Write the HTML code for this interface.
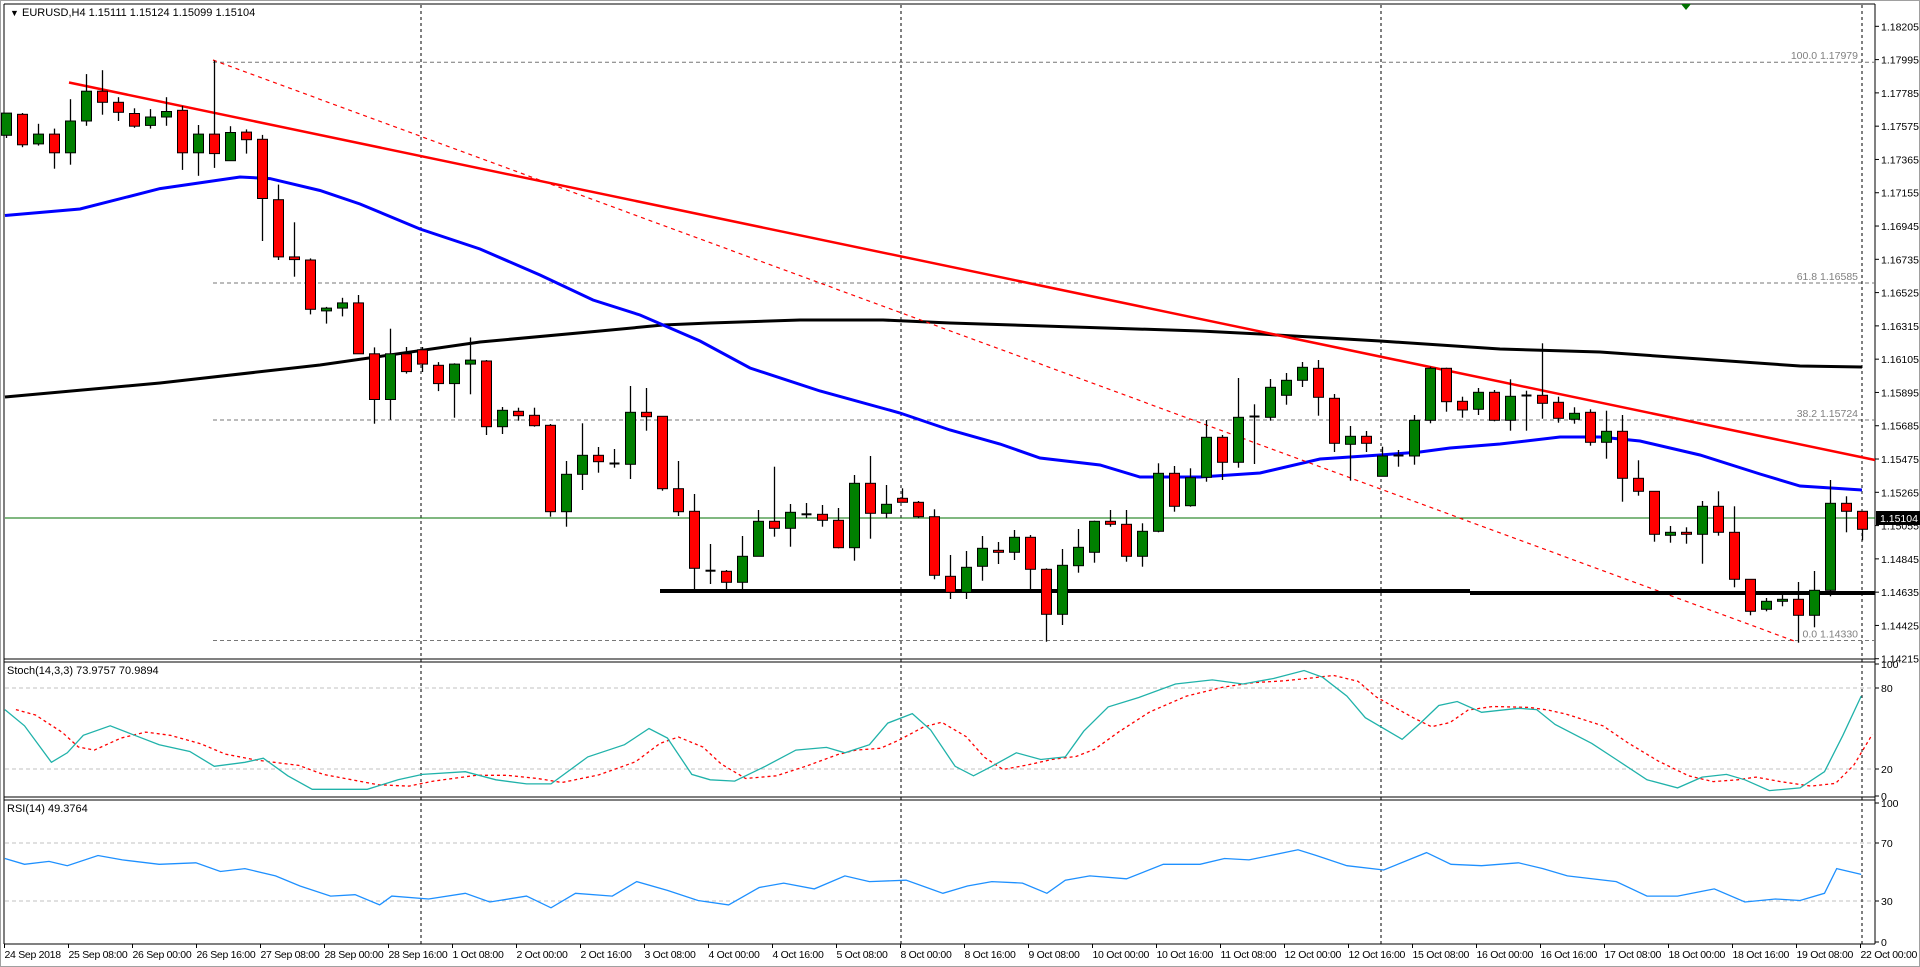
<!DOCTYPE html>
<html><head><meta charset="utf-8"><style>
html,body{margin:0;padding:0;background:#fff;}
svg{display:block;font-family:"Liberation Sans",sans-serif;}
</style></head><body>
<svg id="c" width="1920" height="967" viewBox="0 0 1920 967" xmlns="http://www.w3.org/2000/svg">
<rect x="0" y="0" width="1920" height="967" fill="#fff"/>
<rect x="0.5" y="0.5" width="1919" height="966" fill="none" stroke="#a0a0a0"/>
</svg>
<script>
var svg=document.getElementById('c');var out='';
function L(x1,y1,x2,y2,c,w,d){out+='<line x1="'+x1+'" y1="'+y1+'" x2="'+x2+'" y2="'+y2+'" stroke="'+c+'" stroke-width="'+(w||1)+'"'+(d?' stroke-dasharray="'+d+'"':'')+'/>';}
function T(x,y,s,sz,c,anc,extra){out+='<text x="'+x+'" y="'+y+'" font-size="'+(sz||11)+'" fill="'+(c||'#000')+'"'+(anc?' text-anchor="'+anc+'"':'')+(extra||'')+'>'+s+'</text>';}
function P(pts,c,w,d){out+='<polyline fill="none" points="'+pts.map(function(p){return p[0].toFixed(1)+','+p[1].toFixed(1)}).join(' ')+'" stroke="'+c+'" stroke-width="'+w+'"'+(d?' stroke-dasharray="'+d+'"':'')+'/>';}
var R=1875;
L(4,4,R,4,'#000');L(4,4,4,944,'#000');L(R,4,R,944,'#000');
L(4,659,R,659,'#000');L(4,662,R,662,'#000');L(4,797,R,797,'#000');L(4,800,R,800,'#000');L(4,944,R,944,'#000');
var fib=[[62.2,'100.0 1.17979'],[283,'61.8 1.16585'],[420,'38.2 1.15724'],[640.5,'0.0 1.14330']];
fib.forEach(function(f){L(213,f[0],R,f[0],'#777',1,'4,3');T(1858,f[0]-3,f[1],10.5,'#808080','end');});
[688,769].forEach(function(y){L(5,y,R,y,'#c0c0c0',1,'4,3');});
[843,901].forEach(function(y){L(5,y,R,y,'#c0c0c0',1,'4,3');});
[421,901,1381,1862].forEach(function(x){L(x,5,x,944,'#000',1,'3,3');});
L(5,518,R,518,'#007000',1);
P([[5,397],[160,383],[320,365],[480,342],[600,331],[663,325],[710,323],[800,320],[883,320],[950,323],[1200,331],[1260,334],[1380,341],[1500,349],[1600,352],[1700,359],[1800,366],[1862,367]],'#000',3);
P([[5,215.5],[80,209],[160,188.6],[240,177],[270,178.6],[320,190.5],[360,204],[420,229],[480,249],[540,275],[593,300],[640,315],[700,341],[750,368],[820,391],[900,413],[950,430],[1000,444],[1040,458],[1100,465],[1140,477],[1200,477],[1260,473],[1320,459],[1380,455],[1420,452],[1450,448],[1500,444],[1560,437],[1600,437],[1640,441],[1700,455],[1760,474],[1800,486],[1862,490]],'#0000ff',3);
L(69,82.5,R,460,'#ff0000',2.5);
L(213,60,1797,642,'#ff0000',1.2,'4,4');
L(660,591,1470,591,'#000',4);L(1470,593,R,593,'#000',4);
var d=[[135.3,113.1,113,138],[114.3,144.8,113,147.2],[143.9,134.1,123.8,145.6],[134.1,152.8,128.6,168.7],[152.8,121,99.2,164.7],[121,91.2,74.1,125.8],[91.2,102.3,70.2,114.7],[102.3,112.3,97.2,121],[113.5,126.2,108.3,127.8],[125.4,117,109.1,128.6],[117,111.5,97.2,125.8],[110.3,152.8,105.9,169.9],[152.8,134.1,125,175.8],[134.1,153.6,60.6,167.9],[160.7,132.5,126.2,160.7],[132.1,139.7,129.4,153.6],[139.3,198.5,134.9,241],[199.7,256.9,184.6,260],[256.9,259.6,222.3,276.7],[260,309.3,258.4,314.4],[310.9,308.1,306.9,323.6],[308.1,302.9,297.8,316.4],[302.9,353.8,295,353.8],[353.8,399.5,347.4,423.7],[399.5,353.8,328.7,419.7],[353.8,371.6,347,373.6],[349.8,364.1,347,372],[365.3,383.6,362.1,391.1],[383.6,364.1,363.3,417.7],[364.1,360.1,337.5,394.3],
[361,426.7,360,435],[426.7,410.3,407,434],[411.3,415.7,407.7,420.7],[415.3,425.7,407.7,426.7],[425.3,511.7,424,516.7],[511.7,474.3,461,526.7],[474.3,455.3,423.3,490],[455.3,461.7,447,472.7],[463.5,463.7,449,467.7],[464.3,412.3,386,479],[412.3,416.7,388,430.7],[416.3,488.7,416.3,490.7],[488.7,511.7,461,516],[511.3,568.3,494,589.3],[570.7,571,544,584],[571.3,582.3,570,589.3],[582.3,556.3,536,589.3],[556.3,521.3,510,556.3],[521.3,528.3,466.7,536.7],[528.3,512.3,504,546.7],[514.3,514.5,503,518.3],[514.3,520.3,505,526.7],[520.3,547.7,508,548.3],[547.7,483.3,475,560.7],[483.3,513.3,456,538.7],[513.3,504.3,485,518.3],[498.3,502.3,488.3,502.3],[502.3,516.7,501,518.3],[516.7,575.3,509.3,579.3],
[576.3,592.3,555,599],[592.3,567.3,551,599],[566.3,548.3,536,580.7],[550.3,552.3,542,564],[552.3,537.3,530,560],[537.3,569.3,535,589.3],[569.3,614.3,568.3,641.7],[614.3,565.3,549,625],[565.7,547.3,529,572.7],[552.3,521.3,520.7,562.7],[521.3,524.3,510,526.7],[524.3,556.3,510,561.7],[556.3,531.3,523.3,566.7],[531.3,473.3,463.3,532.3],[473.3,506.3,466,511.7],[505.7,477.7,468.3,506.7],[477.3,437.3,420,481.7],[437.3,462.3,435,480],[462.3,417.3,378,467.7],[416.5,416.7,404.3,464],[417.3,387.3,379,420.7],[395.3,380.3,373,404.7],[380.3,367.3,362,387],[368.3,397.3,360,415.7],[398.3,443.3,394,452],[444.3,436.3,426,480.7],[436.3,443.3,431,452],[476.3,456,446.7,476.3],[455.5,455.7,450,466.7],[456,420.3,415,464.7],
[420.3,368.3,366.7,423.3],[368.3,401.7,367.7,411.7],[401.3,410,396.7,417.7],[409.3,392.3,388,415],[392.3,420.3,390,421.3],[420.3,396.3,379.3,430.7],[395.5,395.7,390.7,430.7],[395.3,403.3,343.3,418.7],[402.3,418.3,396.7,422.7],[419.3,413.3,407.3,423.7],[412.3,442.3,409.3,445.7],[442.3,431.3,410.7,458.7],[431.3,478.3,415,501.7],[478.3,491.3,460.3,495.7],[491.3,534.3,491.3,541.7],[535.3,532.3,526,542.7],[532.3,534.3,527.3,543.7],[534.3,506.3,501,563.7],[506.3,532.3,491.3,535.7],[532.3,579.3,506.3,587.3],[579.3,611.3,579.3,615.3],[609.3,601.3,598,611.3],[601.3,599.3,594.3,606.3],[599.3,615.3,582,642.7],[615.3,590.3,571,627.3],[590.3,503.3,480,596.3],[503.3,511.3,496.3,532.3],[511.3,529.3,511.3,540.3]];
d.forEach(function(c,i){var x=Math.round(5.5+16*i)+0.5;var o=c[0],cl=c[1];L(x,c[2],x,c[3],'#000',1.3);
var top=Math.min(o,cl),h=Math.abs(o-cl);
if(h<2){L(x-5,top,x+5,top,'#000',2);}else{var col=cl<o?'#008000':'#ff0000';out+='<rect x="'+(x-5)+'" y="'+top.toFixed(1)+'" width="10" height="'+h.toFixed(1)+'" fill="'+col+'" stroke="#000" stroke-width="1"/>';}});
out+='<polygon points="1681,4 1691,4 1686,10" fill="#007000"/>';
for(var k=0;k<20;k++){var p=1.18205-0.0021*k;var y=640.5-(p-1.1433)*15850;L(R,y,R+4,y,'#000');T(1881,y+4,p.toFixed(5),10.5,'#000');}
out+='<rect x="1876" y="511" width="44" height="14" fill="#000"/>';T(1880,522,'1.15104',10.5,'#fff');
[[100,664],[80,688],[20,769],[0,796]].forEach(function(a){L(R,a[1],R+4,a[1],'#000');T(1881,a[1]+4,a[0],10.5);});
[[100,803],[70,843],[30,901],[0,942]].forEach(function(a){L(R,a[1],R+4,a[1],'#000');T(1881,a[1]+4,a[0],10.5);});
function mk(pts,f){return pts.map(function(p){return [p[0]*1.2245,f(p[1])];});}
var sk=[[4,64],[20,52],[42,25],[55,32],[68,45],[90,52],[110,45],[130,38],[155,33],[175,22],[200,25],[215,28],[235,15],[255,5],[300,5],[325,12],[345,16],[380,18],[405,12],[430,9],[450,9],[480,29],[510,38],[530,50],[545,43],[565,16],[580,12],[600,11],[625,22],[650,34],[675,36],[690,32],[710,38],[725,54],[745,61],[760,49],[780,22],[795,15],[810,22],[830,32],[850,27],[870,29],[885,48],[905,66],[930,73],[960,83],[990,86],[1015,83],[1040,87],[1065,93],[1080,88],[1100,74],[1115,58],[1145,42],[1160,54],[1175,67],[1190,70],[1210,62],[1240,65],[1255,64],[1270,53],[1300,39],[1320,27],[1345,12],[1370,6],[1390,14],[1410,16],[1425,12],[1445,4],[1470,6],[1490,18],[1505,45],[1520,74]];
var sd=sk.map(function(p,i){var a=sk[Math.max(0,i-1)][1],b=sk[Math.max(0,i-2)][1];return [p[0]+9,(p[1]+a+b)/3];});
var fs=function(v){return 796-v*1.35;};
P(mk(sd,fs),'#ff0000',1.3,'3,3');P(mk(sk,fs),'#20b2aa',1.3);
var rs=[[4,59],[20,55],[40,57],[55,54],[80,61],[100,58],[130,55],[160,56],[180,50],[200,52],[225,47],[245,40],[270,33],[290,34],[310,27],[320,33],[350,31],[380,35],[400,29],[430,33],[450,25],[470,35],[500,33],[520,43],[545,37],[570,30],[595,27],[620,39],[640,42],[665,38],[690,47],[710,43],[740,44],[770,35],[790,40],[810,43],[835,42],[855,35],[870,44],[890,47],[920,45],[950,55],[980,55],[1000,59],[1020,58],[1060,65],[1075,61],[1100,54],[1130,51],[1165,63],[1185,55],[1210,54],[1240,56],[1260,52],[1280,47],[1320,43],[1345,33],[1370,33],[1400,38],[1425,29],[1450,31],[1470,30],[1490,35],[1500,52],[1520,48]];
P(mk(rs,function(v){return 944-v*1.45;}),'#1e90ff',1.3);
T(10,16,'&#9660;',9);T(22,16,'EURUSD,H4  1.15111 1.15124 1.15099 1.15104',11);
T(7,674,'Stoch(14,3,3) 73.9757 70.9894',11);T(7,812,'RSI(14) 49.3764',11);
var tl=['24 Sep 2018','25 Sep 08:00','26 Sep 00:00','26 Sep 16:00','27 Sep 08:00','28 Sep 00:00','28 Sep 16:00','1 Oct 08:00','2 Oct 00:00','2 Oct 16:00','3 Oct 08:00','4 Oct 00:00','4 Oct 16:00','5 Oct 08:00','8 Oct 00:00','8 Oct 16:00','9 Oct 08:00','10 Oct 00:00','10 Oct 16:00','11 Oct 08:00','12 Oct 00:00','12 Oct 16:00','15 Oct 08:00','16 Oct 00:00','16 Oct 16:00','17 Oct 08:00','18 Oct 00:00','18 Oct 16:00','19 Oct 08:00','22 Oct 00:00'];
tl.forEach(function(s,k){var x=4.5+64*k;L(x,944,x,948,'#000');T(x,958,s,10.5,'#000','',' letter-spacing="-0.3"');});
svg.insertAdjacentHTML('beforeend',out);
</script>
</body></html>
